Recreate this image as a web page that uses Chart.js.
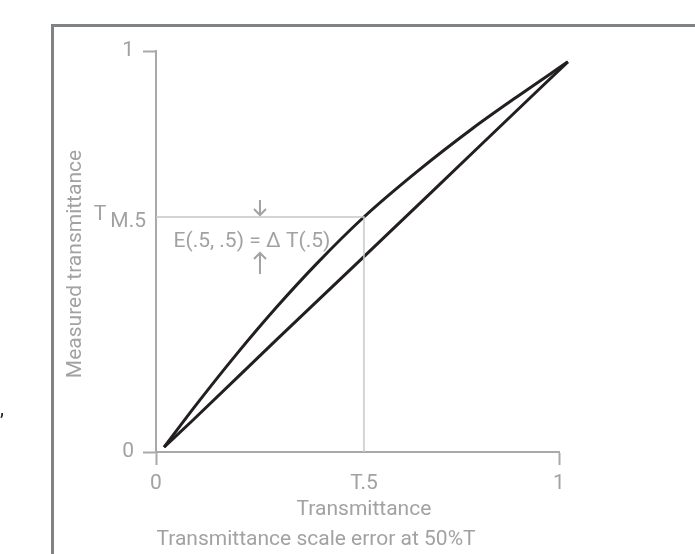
<!DOCTYPE html>
<html>
<head>
<meta charset="utf-8">
<title>Transmittance scale error</title>
<script src="https://cdn.jsdelivr.net/npm/chart.js@4.4.0/dist/chart.umd.min.js"></script>
<style>
  html, body { margin: 0; padding: 0; background: #fff; }
  #wrap { width: 695px; height: 554px; position: relative; }
</style>
</head>
<body>
<div id="wrap"><canvas id="scale_error"></canvas></div>
<script>
// curves: measured vs true transmittance
var upperX = [0.020, 0.100, 0.200, 0.300, 0.400, 0.516, 0.650, 0.787, 0.896, 1.022];
var upperY = [0.012, 0.118, 0.244, 0.362, 0.471, 0.586, 0.701, 0.808, 0.886, 0.973];
var lowerX = [0.020, 0.090, 0.300, 0.516, 0.800, 1.022];
var lowerY = [0.012, 0.078, 0.281, 0.487, 0.760, 0.973];

var markX = 0.516;   // T.5
var markY = 0.586;   // T M.5
var xTickValues = [0, markX, 1];
var xTickLabels = ["0", "T.5", "1"];
var yTickValues = [0, 1];
var yTickLabels = ["0", "1"];

var axisGray = "#a9a9a9";
var textGray = "#a2a2a2";
var curveColor = "#231f20";
var FONT = "Roboto, 'Noto Sans', sans-serif";
var FSIZE = 21;

function toPoints(xs, ys) {
  return xs.map(function (x, i) { return { x: x, y: ys[i] }; });
}

function arrow(ctx, x, tipY, tailY) {
  var dir = tipY > tailY ? 1 : -1;
  ctx.beginPath();
  ctx.moveTo(x, tailY);
  ctx.lineTo(x, tipY);
  ctx.moveTo(x - 6, tipY - dir * 6);
  ctx.lineTo(x, tipY);
  ctx.lineTo(x + 6, tipY - dir * 6);
  ctx.stroke();
}

var extras = {
  id: 'extras',
  beforeDraw: function (chart) {
    var ctx = chart.ctx;
    ctx.save();
    ctx.fillStyle = "#fff";
    ctx.fillRect(0, 0, chart.width, chart.height);
    // outer frame, only left and top edges are in view
    ctx.fillStyle = "#808386";
    ctx.fillRect(51, 24, 3, chart.height);
    ctx.fillRect(51, 24, chart.width, 3);
    ctx.fillStyle = "#222";
    ctx.font = "20px " + FONT;
    ctx.fillText(",", 0, 415);
    ctx.restore();
  },
  afterDraw: function (chart) {
    var ctx = chart.ctx;
    var xs = chart.scales.x, ys = chart.scales.y;
    var px = xs.getPixelForValue(markX);
    var py = ys.getPixelForValue(markY);
    ctx.save();
    ctx.fillStyle = textGray;
    ctx.font = FSIZE + "px " + FONT;

    // T M.5 label
    ctx.textAlign = "right";
    ctx.textBaseline = "alphabetic";
    var right = xs.left - 10;
    ctx.fillText("M.5", right, py + 10);
    var w = ctx.measureText("M.5").width;
    ctx.fillText("T", right - w - 4, py + 3);

    // error label and arrows
    ctx.textAlign = "center";
    ctx.fillText("E(.5, .5) = \u0394 T(.5)", xs.getPixelForValue(0.238), py + 30);
    ctx.strokeStyle = textGray;
    ctx.lineWidth = 2;
    var ax = xs.getPixelForValue(0.258);
    arrow(ctx, ax, py - 2, py - 17);
    arrow(ctx, ax, py + 36, py + 57);

    // axis titles
    ctx.fillText("Transmittance", px, 515);
    ctx.fillText("Transmittance scale error at 50%T", 316, 545);
    ctx.translate(81, 264);
    ctx.rotate(-Math.PI / 2);
    ctx.fillText("Measured transmittance", 0, 0);
    ctx.restore();
  }
};

var ctx = document.getElementById("scale_error").getContext('2d');
var scale_error = new Chart(ctx, {
  type: 'scatter',
  data: {
    datasets: [{
      label: "guide",
      data: [{ x: 0, y: markY }, { x: markX, y: markY }, { x: markX, y: 0 }],
      showLine: true,
      borderColor: "#c8c8c8",
      borderWidth: 1.5,
      pointRadius: 0,
      tension: 0
    }, {
      label: "upper",
      data: toPoints(upperX, upperY),
      showLine: true,
      borderColor: curveColor,
      borderWidth: 3,
      pointRadius: 0,
      cubicInterpolationMode: 'monotone',
      clip: false
    }, {
      label: "lower",
      data: toPoints(lowerX, lowerY),
      showLine: true,
      borderColor: curveColor,
      borderWidth: 3,
      pointRadius: 0,
      cubicInterpolationMode: 'monotone',
      clip: false
    }]
  },
  options: {
    responsive: true,
    maintainAspectRatio: false,
    animation: false,
    layout: { padding: { left: 0, top: 51, right: 136, bottom: 0 } },
    plugins: { legend: { display: false }, tooltip: { enabled: false } },
    scales: {
      x: {
        type: 'linear', min: 0, max: 1,
        afterBuildTicks: function (scale) {
          scale.ticks = xTickValues.map(function (v) { return { value: v }; });
        },
        afterFit: function (scale) { scale.height = 102; },
        ticks: {
          autoSkip: false, maxRotation: 0, padding: 6,
          color: textGray, font: { family: FONT, size: FSIZE },
          callback: function (value, index) { return xTickLabels[index]; }
        },
        grid: {
          drawOnChartArea: false, tickLength: 13, tickWidth: 2,
          tickColor: function (c) { return c.tick && c.tick.value === markX ? 'rgba(0,0,0,0)' : axisGray; }
        },
        border: { color: axisGray, width: 2 }
      },
      y: {
        type: 'linear', min: 0, max: 1,
        afterBuildTicks: function (scale) {
          scale.ticks = yTickValues.map(function (v) { return { value: v }; });
        },
        afterFit: function (scale) { scale.width = 156; },
        ticks: {
          autoSkip: false, padding: 9,
          color: textGray, font: { family: FONT, size: FSIZE },
          callback: function (value, index) { return yTickLabels[index]; }
        },
        grid: { drawOnChartArea: false, tickLength: 13, tickWidth: 2, tickColor: axisGray },
        border: { color: axisGray, width: 2 }
      }
    }
  },
  plugins: [extras]
});
</script>
</body>
</html>
